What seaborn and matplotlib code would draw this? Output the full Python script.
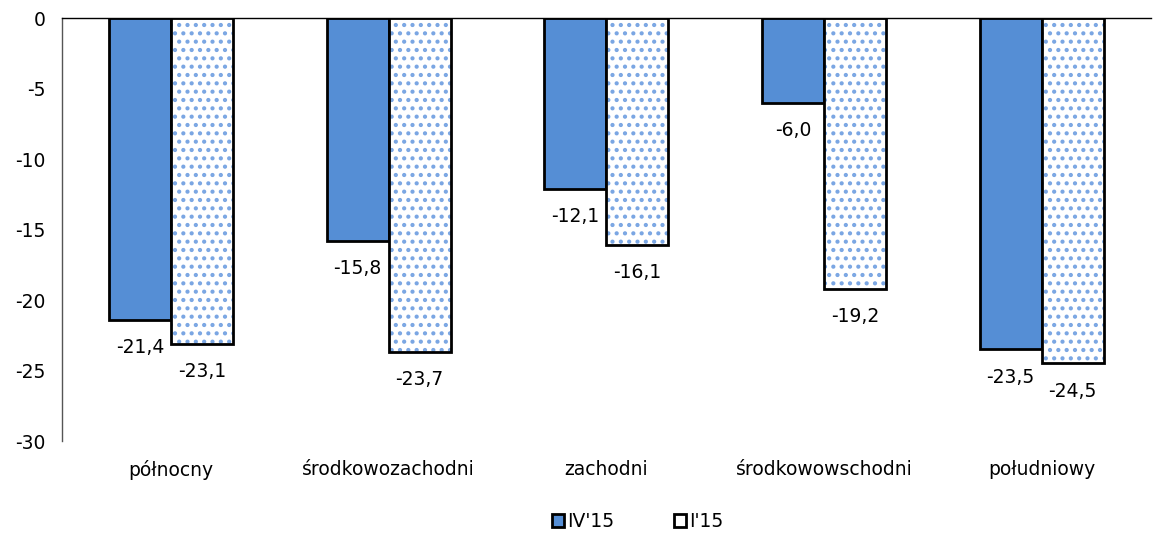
import pandas as pd
import matplotlib.pyplot as plt
import matplotlib.patches as mpatches
import seaborn as sns

regions = ["północny", "środkowozachodni", "zachodni", "środkowowschodni", "południowy"]
iv15 = [-21.4, -15.8, -12.1, -6.0, -23.5]
i15 = [-23.1, -23.7, -16.1, -19.2, -24.5]
series = ["IV'15", "I'15"]
yticks = [0, -5, -10, -15, -20, -25, -30]

df = pd.DataFrame({
    "region": regions * 2,
    "value": iv15 + i15,
    "series": [series[0]] * len(regions) + [series[1]] * len(regions),
})

sns.set_style("white")
plt.rcParams["font.family"] = ["DejaVu Sans"]
plt.rcParams["text.color"] = "black"
plt.rcParams["xtick.color"] = "black"
plt.rcParams["ytick.color"] = "black"
plt.rcParams["hatch.linewidth"] = 1.8

fs = 13.5
blue = "#558ed5"
fig = plt.figure(figsize=(11.63, 5.33), dpi=100)
ax = fig.add_axes([0.0533, 0.1726, 0.936, 0.7936])

sns.barplot(data=df, x="region", y="value", hue="series", order=regions,
            hue_order=series, palette=[blue, "white"], width=0.57,
            edgecolor="black", linewidth=2, ax=ax, legend=False, saturation=1)

n = len(regions)
bars = ax.patches[:2 * n]
for p in bars[n:]:
    p.set_hatch("..")
    p.set_edgecolor("#7aa6e3")
    p.set_linewidth(0)
    outline = mpatches.Rectangle(p.get_xy(), p.get_width(), p.get_height(),
                                 fill=False, edgecolor="black", linewidth=2,
                                 zorder=p.get_zorder() + 0.1)
    ax.add_patch(outline)

for p, v in zip(bars, iv15 + i15):
    ax.annotate(f"{v:.1f}".replace(".", ","),
                (p.get_x() + p.get_width() / 2, v),
                xytext=(0, -20), textcoords="offset points",
                ha="center", va="center", fontsize=fs)

ax.set_ylim(-30, 0)
ax.set_yticks(yticks)
ax.set_yticklabels([str(t) for t in yticks], fontsize=fs)
ax.tick_params(axis="x", labelsize=fs, length=0, pad=14)
ax.tick_params(axis="y", length=0, pad=12)
ax.set_xlabel("")
ax.set_ylabel("")
ax.set_xlim(-0.5, n - 0.5)

for s in ["right", "bottom"]:
    ax.spines[s].set_visible(False)
ax.spines["left"].set_color("#555555")
ax.spines["left"].set_linewidth(1)
ax.spines["top"].set_color("black")
ax.spines["top"].set_linewidth(1)

handles = [
    mpatches.Patch(facecolor=blue, edgecolor="black", linewidth=2, label=series[0]),
    mpatches.Patch(facecolor="white", edgecolor="black", linewidth=2, label=series[1]),
]
fig.legend(handles=handles, loc="lower center", bbox_to_anchor=(0.548, -0.028), ncol=2,
           frameon=False, fontsize=fs, handlelength=0.65, handleheight=0.65,
           columnspacing=3.2, handletextpad=0.15)

fig.savefig("out.png", dpi=100)
